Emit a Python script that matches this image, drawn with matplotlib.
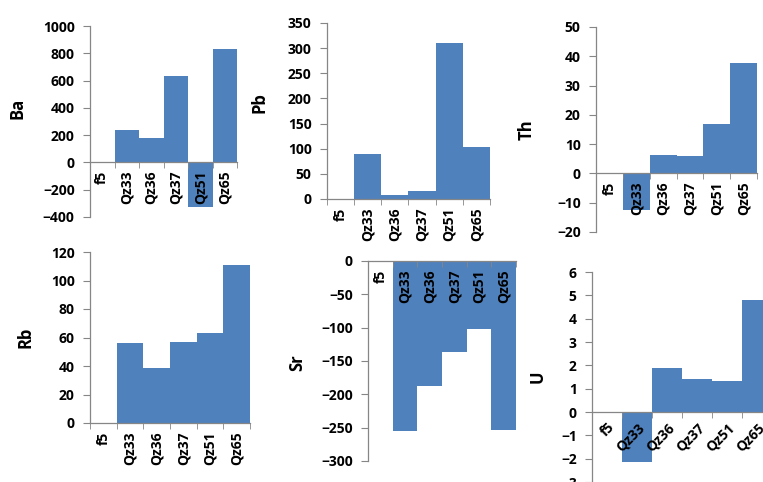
import matplotlib
matplotlib.use('Agg')
import matplotlib.pyplot as plt
import numpy as np

samples = ['f5', 'Qz33', 'Qz36', 'Qz37', 'Qz51', 'Qz65']

Ba = [0, 240, 180, 635, -330, 830]
Pb = [0, 90, 8, 16, 310, 103]
Th = [0, -12.5, 6.2, 6.0, 16.8, 37.8]
Rb = [0, 56, 38.5, 57, 63.5, 111]
Sr = [0, -255, -188, -136, -102, -253]
U = [0, -2.15, 1.9, 1.42, 1.32, 4.82]

plt.rcParams['font.family'] = ['Open Sans', 'DejaVu Sans']
plt.rcParams['font.weight'] = 'bold'

W, H = 763, 482
fig = plt.figure(figsize=(W / 100, H / 100), dpi=100)
fig.patch.set_facecolor('white')

blue = '#4F81BD'
grey = '#868686'


def panel(box, name, vals, lo, hi, step, lab_xy, rot=90):
    # box is (left, top, right, bottom) in pixels from the top-left corner
    l, t, r, b = box
    ax = fig.add_axes([l / W, (H - b) / H, (r - l) / W, (b - t) / H])
    ax.patch.set_alpha(0)
    x = np.arange(len(samples))
    ax.bar(x, vals, width=1.0, color=blue, zorder=1)
    ax.set_xlim(-0.5, len(samples) - 0.5)
    ax.set_ylim(lo, hi)
    ax.set_yticks(np.arange(lo, hi + step / 2, step))
    ax.spines['top'].set_visible(False)
    ax.spines['right'].set_visible(False)
    ax.spines['bottom'].set_position(('data', 0))
    for s in ('left', 'bottom'):
        ax.spines[s].set_color(grey)
        ax.spines[s].set_linewidth(0.9)
    ax.set_xticks(x)
    if rot == 90:
        ax.set_xticklabels(samples, rotation=90, va='top', ha='center')
    else:
        ax.set_xticklabels(samples, rotation=rot, ha='right', va='top',
                           rotation_mode='anchor')
    ax.set_xticks(np.arange(-0.5, len(samples)), minor=True)
    ax.tick_params(axis='x', which='major', length=0, pad=6, labelsize=10)
    ax.tick_params(axis='x', which='minor', length=4, color=grey, direction='out')
    ax.tick_params(axis='y', length=5, color=grey, pad=6, labelsize=10)
    for lbl in ax.get_xticklabels() + ax.get_yticklabels():
        lbl.set_fontweight('bold')
    ax.set_ylabel(name, fontsize=12, fontweight='bold')
    ax.yaxis.set_label_coords(lab_xy[0] / W, (H - lab_xy[1]) / H,
                              transform=fig.transFigure)
    return ax


panel((90, 26, 237, 217), 'Ba', Ba, -400, 1000, 200, (26, 108))
panel((327, 23, 490, 199), 'Pb', Pb, 0, 350, 50, (268, 103))
panel((596, 27, 757, 232), 'Th', Th, -20, 50, 10, (536, 130))
panel((90, 252, 250, 423), 'Rb', Rb, 0, 120, 20, (35, 337))
panel((368, 261, 516, 461), 'Sr', Sr, -300, 0, 50, (306, 363))
panel((592, 272, 772, 482), 'U', U, -3, 6, 1, (547, 377), rot=45)

fig.savefig('out.png', dpi=100)
